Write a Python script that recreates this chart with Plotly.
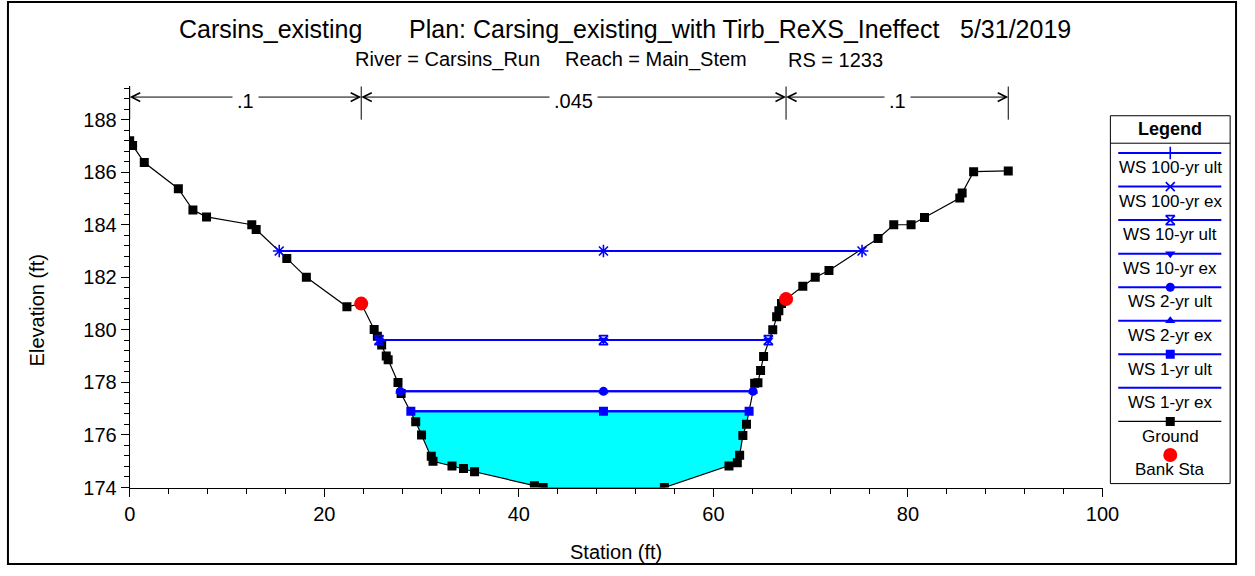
import plotly.graph_objects as go

W, H = 1255, 576

# ---------------- data ----------------
ground_sta = [0.0, 0.3, 1.5, 5.0, 6.5, 7.9, 12.55, 13.0, 16.15, 18.16, 22.33, 23.8,
              25.13, 25.46, 25.9, 26.37, 26.57, 27.58, 27.9, 29.4, 30.0, 31.0, 31.18,
              33.13, 34.31, 35.45, 41.6, 42.5, 54.96, 61.6, 62.46, 62.7, 63.03, 63.4,
              64.24, 64.58, 64.85, 65.16, 66.1, 66.5, 66.73, 67.0, 67.47, 69.19, 70.47,
              71.88, 76.93, 78.54, 80.32, 81.7, 85.33, 85.57, 86.75, 90.31]
ground_elev = [187.2, 187.02, 186.37, 185.37, 184.56, 184.3, 184.0, 183.82, 182.72, 182.0, 180.88, 181.0,
               180.01, 179.76, 179.42, 179.01, 178.86, 178.0, 177.58, 176.5, 176.0, 175.19, 175.0,
               174.82, 174.72, 174.6, 174.07, 174.0, 174.0, 174.82, 174.94, 175.23, 175.98, 176.41,
               177.97, 177.99, 178.45, 178.99, 180.0, 180.5, 180.73, 181.0, 181.17, 181.66, 182.0,
               182.26, 183.48, 184.0, 184.0, 184.28, 185.02, 185.21, 186.02, 186.05]

bank_sta = [23.8, 67.47]
bank_elev = [181.0, 181.17]

ws_names = ["WS 100-yr ult", "WS 100-yr ex", "WS 10-yr ult", "WS 10-yr ex",
            "WS 2-yr ult", "WS 2-yr ex", "WS 1-yr ult", "WS 1-yr ex"]
ws_elev = [183.0, 183.0, 179.61, 179.61, 177.66, 177.66, 176.9, 176.9]
ws_left = [15.37, 15.37, 25.63, 25.63, 27.81, 27.81, 28.9, 28.9]
ws_right = [75.28, 75.28, 65.65, 65.65, 64.08, 64.08, 63.67, 63.67]
ws_mid_sta = 48.7

n_values = [".1", ".045", ".1"]
n_arrow_elev = 188.86
n_line_bottom = 188.0

title_parts = ["Carsins_existing", "Plan: Carsing_existing_with Tirb_ReXS_Ineffect", "5/31/2019"]
subtitle_parts = ["River = Carsins_Run", "Reach = Main_Stem", "RS = 1233"]

# ---------------- styles ----------------
BLUE = "#0000FF"
FONT = "Liberation Sans, Arial, sans-serif"
ws_symbols = ["cross-thin", "x-thin", "hourglass-open", "triangle-down",
              "circle", "triangle-up", "square", None]

X0, X1 = 126, 1117
Y0, Y1 = 88, 497
Y_TOP = 174 + (Y1 - Y0) / ((Y1 - 122) / 14.0)


def px(p):
    return p / W


def py(p):
    return 1 - p / H


def marker_style(sym, size=9):
    if sym in ("cross-thin", "x-thin", "hourglass-open"):
        return dict(symbol=sym, size=size, color=BLUE, line=dict(color=BLUE, width=1.6))
    return dict(symbol=sym, size=size, color=BLUE, line=dict(width=0))


fig = go.Figure()

# water fill for lowest profile
lo = len(ws_elev) - 1
fx = [ws_left[lo]] + [s for s in ground_sta if ws_left[lo] < s < ws_right[lo]] + [ws_right[lo]]
fy = [ws_elev[lo]] + [e for s, e in zip(ground_sta, ground_elev) if ws_left[lo] < s < ws_right[lo]] + [ws_elev[lo]]
fig.add_trace(go.Scatter(x=fx, y=fy, mode="lines", fill="toself", fillcolor="#00FFFF",
                         line=dict(width=0, color="#00FFFF"), hoverinfo="skip", showlegend=False))

# ground
fig.add_trace(go.Scatter(x=ground_sta, y=ground_elev, mode="lines+markers", showlegend=False,
                         line=dict(color="black", width=1.2),
                         marker=dict(symbol="square", size=9, color="black")))

# water surfaces (drawn from last to first so first is on top)
for i in reversed(range(len(ws_names))):
    xs = [ws_left[i], ws_mid_sta, ws_right[i]]
    ys = [ws_elev[i]] * 3
    sym = ws_symbols[i]
    if sym is None:
        fig.add_trace(go.Scatter(x=xs, y=ys, mode="lines", showlegend=False,
                                 line=dict(color=BLUE, width=2)))
    else:
        fig.add_trace(go.Scatter(x=xs, y=ys, mode="lines+markers", showlegend=False,
                                 line=dict(color=BLUE, width=2), marker=marker_style(sym)))

# bank stations
fig.add_trace(go.Scatter(x=bank_sta, y=bank_elev, mode="markers", showlegend=False,
                         marker=dict(symbol="circle", size=14, color="#FF0000")))

# ---------------- Manning's n bar ----------------
n_sta = [ground_sta[0]] + bank_sta + [ground_sta[-1]]
shapes = []
annotations = []
for s in n_sta:
    shapes.append(dict(type="line", xref="x", yref="y", x0=s, x1=s, y0=n_line_bottom, y1=Y_TOP,
                       line=dict(color="black", width=1)))
for k in range(len(n_values)):
    a, b = n_sta[k], n_sta[k + 1]
    m = (a + b) / 2
    for tip in (a, b):
        annotations.append(dict(x=tip, y=n_arrow_elev, ax=m, ay=n_arrow_elev, axref="x", ayref="y",
                                xref="x", yref="y", text="", showarrow=True, arrowhead=5,
                                arrowsize=1.7, arrowwidth=1, arrowcolor="black", standoff=0))
for k in range(len(n_values)):
    m = (n_sta[k] + n_sta[k + 1]) / 2
    annotations.append(dict(x=m, y=n_arrow_elev, xref="x", yref="y", text=n_values[k], showarrow=False,
                            font=dict(family=FONT, size=20, color="black"), bgcolor="white",
                            borderpad=4, yshift=-4))

# ---------------- titles ----------------
for txt, xl in zip(title_parts, [174, 408, 970]):
    annotations.append(dict(x=px(xl), y=py(30), xref="paper", yref="paper", text=txt, showarrow=False,
                            xanchor="left", yanchor="middle", font=dict(family=FONT, size=25, color="black")))
for txt, xl in zip(subtitle_parts, [353, 567, 795]):
    annotations.append(dict(x=px(xl), y=py(61), xref="paper", yref="paper", text=txt, showarrow=False,
                            xanchor="left", yanchor="middle", font=dict(family=FONT, size=20, color="black")))

annotations.append(dict(x=px((X0 + X1) / 2), y=py(563), xref="paper", yref="paper", text="Station (ft)",
                        showarrow=False, xanchor="center", yanchor="middle",
                        font=dict(family=FONT, size=20, color="black")))
annotations.append(dict(x=px(32), y=py(316), xref="paper", yref="paper", text="Elevation (ft)",
                        showarrow=False, xanchor="center", yanchor="middle", textangle=-90,
                        font=dict(family=FONT, size=20, color="black")))

# ---------------- legend (custom box) ----------------
LX0, LX1, LY0, LY1 = 1125, 1247, 118, 493
shapes.append(dict(type="rect", xref="paper", yref="paper", x0=px(LX0), x1=px(LX1), y0=py(LY1), y1=py(LY0),
                   line=dict(color="black", width=1), fillcolor="white", layer="below"))
shapes.append(dict(type="line", xref="paper", yref="paper", x0=px(LX0), x1=px(LX1), y0=py(146), y1=py(146),
                   line=dict(color="black", width=1)))
annotations.append(dict(x=px((LX0 + LX1) / 2), y=py(132), xref="paper", yref="paper", text="<b>Legend</b>",
                        showarrow=False, xanchor="center", yanchor="middle",
                        font=dict(family=FONT, size=18, color="black")))

legend_labels = ws_names + ["Ground", "Bank Sta"]
row0, pitch = 156, 34.2
lx_a, lx_m, lx_b = 1133, 1186, 1238
for i, lab in enumerate(legend_labels):
    yl = row0 + i * pitch
    if i < len(ws_names):
        fig.add_trace(go.Scatter(x=[lx_a, lx_b], y=[yl, yl], xaxis="x2", yaxis="y2", mode="lines",
                                 showlegend=False, hoverinfo="skip", line=dict(color=BLUE, width=2)))
        if ws_symbols[i] is not None:
            fig.add_trace(go.Scatter(x=[lx_m], y=[yl], xaxis="x2", yaxis="y2", mode="markers",
                                     showlegend=False, hoverinfo="skip", marker=marker_style(ws_symbols[i])))
    elif lab == "Ground":
        fig.add_trace(go.Scatter(x=[lx_a, lx_b], y=[yl, yl], xaxis="x2", yaxis="y2", mode="lines",
                                 showlegend=False, hoverinfo="skip", line=dict(color="black", width=1.2)))
        fig.add_trace(go.Scatter(x=[lx_m], y=[yl], xaxis="x2", yaxis="y2", mode="markers",
                                 showlegend=False, hoverinfo="skip",
                                 marker=dict(symbol="square", size=9, color="black")))
    else:
        fig.add_trace(go.Scatter(x=[lx_m], y=[yl], xaxis="x2", yaxis="y2", mode="markers",
                                 showlegend=False, hoverinfo="skip",
                                 marker=dict(symbol="circle", size=14, color="#FF0000")))
    annotations.append(dict(x=lx_m, y=yl + 15, xref="x2", yref="y2", text=lab, showarrow=False,
                            xanchor="center", yanchor="middle", font=dict(family=FONT, size=17, color="black")))

# outer frame
shapes.append(dict(type="rect", xref="paper", yref="paper", x0=px(2), x1=px(W - 2), y0=py(H - 1), y1=py(2),
                   line=dict(color="black", width=2)))

fig.update_layout(
    width=W, height=H, margin=dict(l=0, r=0, t=0, b=0),
    paper_bgcolor="white", plot_bgcolor="white", showlegend=False,
    font=dict(family=FONT, color="black"),
    xaxis=dict(domain=[px(X0), px(X1)], range=[0, 100], showgrid=False, zeroline=False,
               showline=True, linecolor="black", linewidth=1, ticks="outside", ticklen=8,
               tickcolor="black", tickwidth=1, dtick=20, tick0=0,
               tickfont=dict(family=FONT, size=20, color="black"),
               minor=dict(dtick=4, ticks="outside", ticklen=5, tickcolor="black", tickwidth=1)),
    yaxis=dict(domain=[py(Y1), py(Y0)], range=[174, Y_TOP], showgrid=False, zeroline=False,
               showline=True, linecolor="black", linewidth=1, ticks="outside", ticklen=8,
               tickcolor="black", tickwidth=1, dtick=2, tick0=174,
               tickfont=dict(family=FONT, size=20, color="black"),
               minor=dict(dtick=0.4, ticks="outside", ticklen=5, tickcolor="black", tickwidth=1)),
    xaxis2=dict(domain=[px(LX0), px(LX1)], range=[LX0, LX1], visible=False, fixedrange=True),
    yaxis2=dict(domain=[py(LY1), py(LY0)], range=[LY1, LY0], visible=False, fixedrange=True),
    shapes=shapes, annotations=annotations,
)

fig.write_html("out.html")
